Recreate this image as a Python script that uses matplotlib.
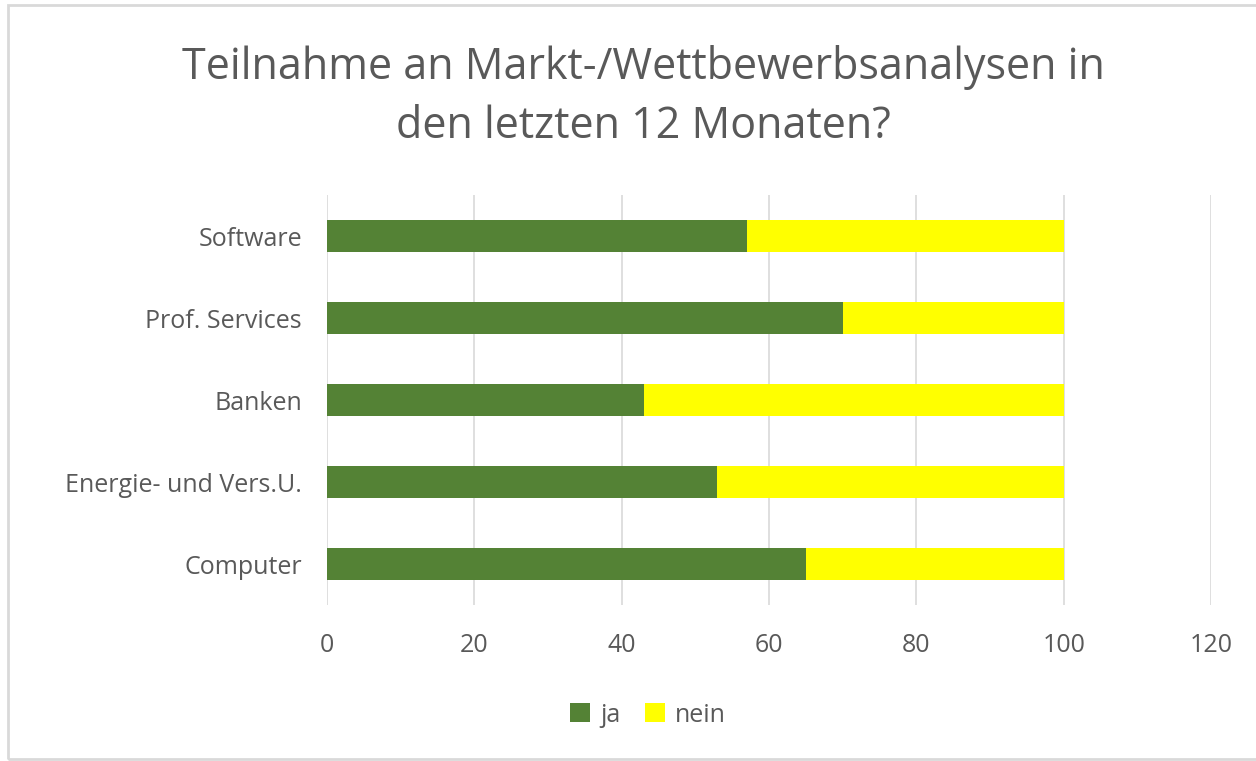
import matplotlib.pyplot as plt
from matplotlib.patches import Rectangle

categories = ["Computer", "Energie- und Vers.U.", "Banken", "Prof. Services", "Software"]
ja = [65, 53, 43, 70, 57]
nein = [35, 47, 57, 30, 43]
xticks = [0, 20, 40, 60, 80, 100, 120]

plt.rcParams['font.family'] = ['Open Sans', 'DejaVu Sans']
txt = '#595959'

fig = plt.figure(figsize=(12.56, 7.61), dpi=100)
ax = fig.add_axes([327/1256, 1 - 605/761, (1211-327)/1256, (605-195)/761])

y = range(len(categories))
ax.barh(y, ja, height=0.38, color='#548235', label='ja', zorder=3)
ax.barh(y, nein, left=ja, height=0.38, color='#ffff00', label='nein', zorder=3)

ax.set_xlim(0, 120)
ax.set_ylim(-0.5, len(categories) - 0.5)
ax.set_xticks(xticks)
ax.set_yticks(list(y))
ax.set_yticklabels(categories)
ax.tick_params(length=0, labelsize=18, labelcolor=txt)
ax.tick_params(axis='x', pad=20)
ax.tick_params(axis='y', pad=18)
ax.grid(axis='x', color='#d9d9d9', linewidth=1.2, zorder=0)
for s in ax.spines.values():
    s.set_visible(False)

fig.text(0.512, 1 - 97/761, "Teilnahme an Markt-/Wettbewerbsanalysen in\nden letzten 12 Monaten?",
         ha='center', va='center', fontsize=31, color=txt, linespacing=1.42)

fig.legend(loc='center', bbox_to_anchor=(648/1256, 1 - 715/761), ncol=2, frameon=False,
           fontsize=18, labelcolor=txt, handlelength=0.8, handleheight=0.8,
           handletextpad=0.4, columnspacing=1.0)

fig.patches.append(Rectangle((8/1256, 2/761), 1.0, 1 - 7/761, transform=fig.transFigure,
                             fill=False, edgecolor='#d9d9d9', linewidth=2))

fig.savefig('out.png', dpi=100)
